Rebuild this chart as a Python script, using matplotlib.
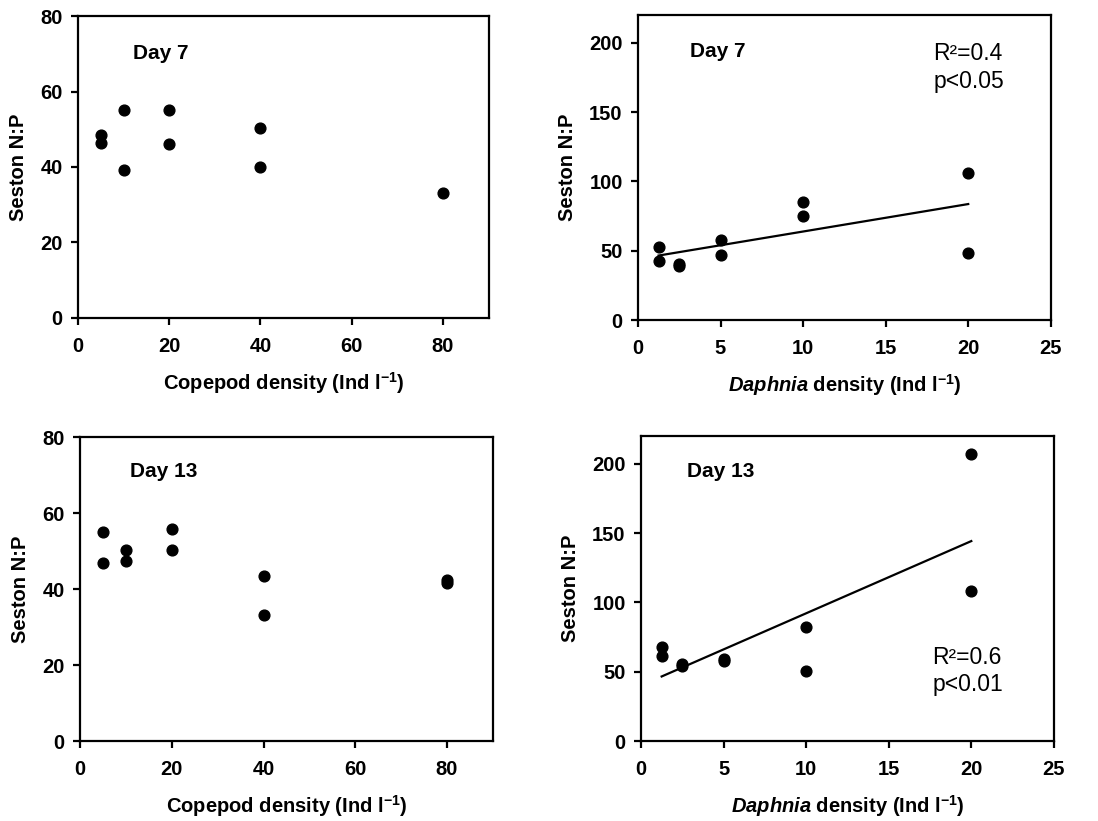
import numpy as np
import matplotlib
matplotlib.use("Agg")
import matplotlib.pyplot as plt

plt.rcParams['font.family'] = ['Liberation Sans', 'DejaVu Sans']
plt.rcParams['mathtext.fontset'] = 'custom'
plt.rcParams['mathtext.rm'] = 'Liberation Sans:bold'
plt.rcParams['mathtext.bf'] = 'Liberation Sans:bold'
plt.rcParams['mathtext.it'] = 'Liberation Sans:italic:bold'

# --- data ---
cope_x = [5, 5, 10, 10, 20, 20, 40, 40, 80]
cope_day7 = [48.5, 46.3, 55.2, 39.2, 55.1, 46.1, 50.2, 40.0, 33.2]

cope_x13 = [5, 5, 10, 10, 20, 20, 40, 40, 80, 80]
cope_day13 = [55.0, 46.9, 50.2, 47.4, 55.7, 50.2, 43.4, 33.1, 42.4, 41.6]

daph_x = [1.25, 1.25, 2.5, 2.5, 5, 5, 10, 10, 20, 20]
daph_day7 = [52.9, 42.5, 40.3, 39.3, 57.5, 47.1, 85.3, 74.9, 106.0, 48.0]
daph_day13 = [67.5, 61.6, 55.4, 54.2, 59.2, 58.0, 82.3, 50.8, 207.0, 108.0]

cope_ticks = [0, 20, 40, 60, 80]
daph_ticks = [0, 5, 10, 15, 20, 25]
cope_yticks = [0, 20, 40, 60, 80]
daph_yticks = [0, 50, 100, 150, 200]

cope_label = r"Copepod density (Ind l$^{\mathbf{-1}}$)"
daph_label = r"$\mathit{Daphnia}$ density (Ind l$^{\mathbf{-1}}$)"

TICK_FS = 14.5
LABEL_FS = 14.5
DAY_FS = 15
STAT_FS = 16.5

fig = plt.figure(figsize=(10.98, 8.21), dpi=100)
ax1 = fig.add_axes([0.071, 0.6127, 0.374, 0.3678])
ax2 = fig.add_axes([0.581, 0.6102, 0.376, 0.3715])
ax3 = fig.add_axes([0.0729, 0.0974, 0.376, 0.3703])
ax4 = fig.add_axes([0.5838, 0.0974, 0.376, 0.3716])


def style(ax, xticks, yticks, xlim, ylim, xlabel):
    ax.set_xlim(*xlim)
    ax.set_ylim(*ylim)
    ax.set_xticks(xticks)
    ax.set_yticks(yticks)
    for s in ax.spines.values():
        s.set_linewidth(1.6)
    ax.tick_params(axis='both', direction='out', length=5, width=1.6,
                   labelsize=TICK_FS)
    ax.tick_params(axis='x', pad=9)
    ax.tick_params(axis='y', pad=6)
    for lab in ax.get_xticklabels() + ax.get_yticklabels():
        lab.set_fontweight('bold')
    ax.set_xlabel(xlabel, fontsize=LABEL_FS, fontweight='bold', labelpad=10)
    ax.set_ylabel("Seston N:P", fontsize=LABEL_FS, fontweight='bold', labelpad=9)


def fit_line(ax, x, y):
    x = np.asarray(x)
    k, b = np.polyfit(x, y, 1)
    xs = np.array([x.min(), x.max()])
    ax.plot(xs, k * xs + b, color='black', lw=1.6)


# top left: copepods day 7
ax1.scatter(cope_x, cope_day7, s=60, color='black', zorder=3)
style(ax1, cope_ticks, cope_yticks, (0, 90), (0, 80), cope_label)
ax1.text(0.134, 0.876, "Day 7", transform=ax1.transAxes, fontsize=DAY_FS,
         fontweight='bold', va='center')

# top right: Daphnia day 7
fit_line(ax2, daph_x, daph_day7)
ax2.scatter(daph_x, daph_day7, s=60, color='black', zorder=3)
style(ax2, daph_ticks, daph_yticks, (0, 25), (0, 220), daph_label)
ax2.text(0.127, 0.88, "Day 7", transform=ax2.transAxes, fontsize=DAY_FS,
         fontweight='bold', va='center')
ax2.text(0.715, 0.875, "R²=0.4", transform=ax2.transAxes, fontsize=STAT_FS,
         va='center')
ax2.text(0.715, 0.782, "p<0.05", transform=ax2.transAxes, fontsize=STAT_FS,
         va='center')

# bottom left: copepods day 13
ax3.scatter(cope_x13, cope_day13, s=60, color='black', zorder=3)
style(ax3, cope_ticks, cope_yticks, (0, 90), (0, 80), cope_label)
ax3.text(0.12, 0.885, "Day 13", transform=ax3.transAxes, fontsize=DAY_FS,
         fontweight='bold', va='center')

# bottom right: Daphnia day 13
fit_line(ax4, daph_x, daph_day13)
ax4.scatter(daph_x, daph_day13, s=60, color='black', zorder=3)
style(ax4, daph_ticks, daph_yticks, (0, 25), (0, 220), daph_label)
ax4.text(0.112, 0.885, "Day 13", transform=ax4.transAxes, fontsize=DAY_FS,
         fontweight='bold', va='center')
ax4.text(0.705, 0.275, "R²=0.6", transform=ax4.transAxes, fontsize=STAT_FS,
         va='center')
ax4.text(0.705, 0.185, "p<0.01", transform=ax4.transAxes, fontsize=STAT_FS,
         va='center')

fig.savefig("out.png", dpi=100)
